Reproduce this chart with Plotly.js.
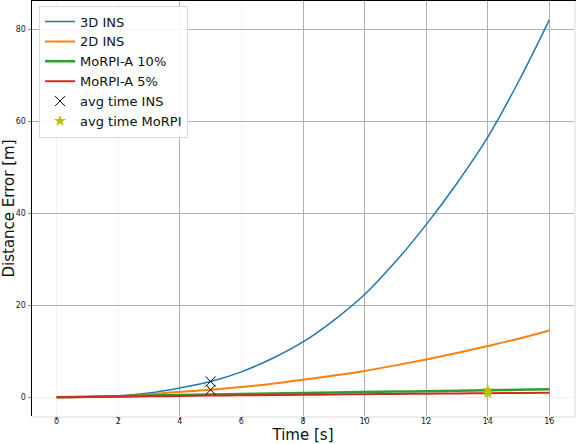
<!DOCTYPE html>
<html><head><meta charset="utf-8">
<script src="https://cdn.plot.ly/plotly-3.0.1.min.js"></script>
<style>html,body{margin:0;padding:0;background:#fff;}#chart{width:576px;height:444px;}</style>
</head><body><div id="chart"></div>
<script>
const time = [0,1,2,3,4,5,6,7,8,9,10,11,12,13,14,15,16];
const ins3d = [0,0.05,0.3,0.9,2.0,3.4,5.5,8.4,12.0,16.7,22.3,29.4,37.5,46.5,56.5,68.6,82.0];
const ins2d = [0,0.05,0.2,0.6,1.15,1.6,2.2,2.9,3.8,4.7,5.7,6.9,8.2,9.6,11.1,12.7,14.5];
const morpi10 = [0,0.1,0.2,0.33,0.45,0.58,0.7,0.8,0.9,1.0,1.1,1.2,1.3,1.4,1.5,1.6,1.7];
const morpi5 = [0,0.05,0.1,0.18,0.25,0.33,0.4,0.45,0.5,0.58,0.65,0.7,0.75,0.8,0.85,0.9,0.95];
const avgTimeIns = 5;
const avgTimeMorpi = 14;
const xTicks = [0,2,4,6,8,10,12,14,16];
const yTicks = [0,20,40,60,80];
const xStrongGrid = [4,8,10,12,14,16];
const yStrongGrid = [20,40,60,80];
const labels = ['3D INS','2D INS','MoRPI-A 10%','MoRPI-A 5%','avg time INS','avg time MoRPI'];

const iIns = time.indexOf(avgTimeIns);
const iMo = time.indexOf(avgTimeMorpi);

const traces = [
  {x: time, y: ins3d, name: labels[0], mode: 'lines', line: {color: '#1f77b4', width: 1.5, shape: 'spline'}},
  {x: time, y: ins2d, name: labels[1], mode: 'lines', line: {color: '#ff7f0e', width: 2, shape: 'spline'}},
  {x: time, y: morpi10, name: labels[2], mode: 'lines', line: {color: '#2ca02c', width: 2.5, shape: 'spline'}},
  {x: time, y: morpi5, name: labels[3], mode: 'lines', line: {color: '#d62728', width: 2, shape: 'spline'}},
  {x: [avgTimeIns, avgTimeIns], y: [ins3d[iIns], ins2d[iIns]], name: labels[4], mode: 'markers', xaxis: 'x2', yaxis: 'y2',
   marker: {symbol: 'x-thin-open', size: 10, color: '#000', line: {color: '#000', width: 1}}},
  {x: [avgTimeMorpi, avgTimeMorpi], y: [morpi10[iMo], morpi5[iMo]], name: labels[5], mode: 'markers', xaxis: 'x2', yaxis: 'y2',
   marker: {symbol: 'star', size: 9, color: '#bfbf00', line: {width: 0}}}
];

const xr = [-0.8, 16.8], yr = [-4.1, 86.1];
const tickFont = {family: 'DejaVu Sans', size: 8, color: '#222'};
const layout = {
  width: 576, height: 444,
  margin: {l: 32, r: 2, t: 1, b: 28},
  paper_bgcolor: '#fff', plot_bgcolor: '#fff',
  showlegend: true,
  legend: {x: 0.013, y: 0.989, xanchor: 'left', yanchor: 'top', bgcolor: 'rgba(255,255,255,0.9)',
           bordercolor: '#d9d9d9', borderwidth: 1, font: {family: 'DejaVu Sans', size: 13, color: '#111'},
           tracegroupgap: 0, itemwidth: 30},
  xaxis: {range: xr, tickvals: xTicks, ticktext: xTicks.map(String), showgrid: true, gridcolor: '#f2f2f2', gridwidth: 1,
          zeroline: false, showline: true, linecolor: '#ececec', linewidth: 1.5, ticks: 'outside', ticklen: 2, tickcolor: '#444',
          tickfont: tickFont, ticklabelstandoff: -5,
          title: {text: 'Time [s]', font: {family: 'DejaVu Sans', size: 15, color: '#111'}, standoff: 0}},
  yaxis: {range: yr, tickvals: yTicks, ticktext: yTicks.map(String), showgrid: true, gridcolor: '#f2f2f2', gridwidth: 1,
          zeroline: false, showline: true, linecolor: '#000', linewidth: 1.5, ticks: 'outside', ticklen: 3, tickcolor: '#888',
          tickfont: tickFont,
          title: {text: 'Distance Error [m]', font: {family: 'DejaVu Sans', size: 15, color: '#111'}, standoff: 8}},
  xaxis2: {range: xr, overlaying: 'x', side: 'top', tickvals: xStrongGrid, showticklabels: false, ticks: '',
           showgrid: true, gridcolor: '#b0b0b0', gridwidth: 1, zeroline: false, showline: true, linecolor: '#000', linewidth: 2},
  yaxis2: {range: yr, overlaying: 'y', side: 'right', tickvals: yStrongGrid, showticklabels: false, ticks: '',
           showgrid: true, gridcolor: '#b0b0b0', gridwidth: 1, zeroline: false, showline: true, linecolor: '#ececec', linewidth: 1.5}
};
Plotly.newPlot('chart', traces, layout, {displayModeBar: false, staticPlot: true});
</script></body></html>
